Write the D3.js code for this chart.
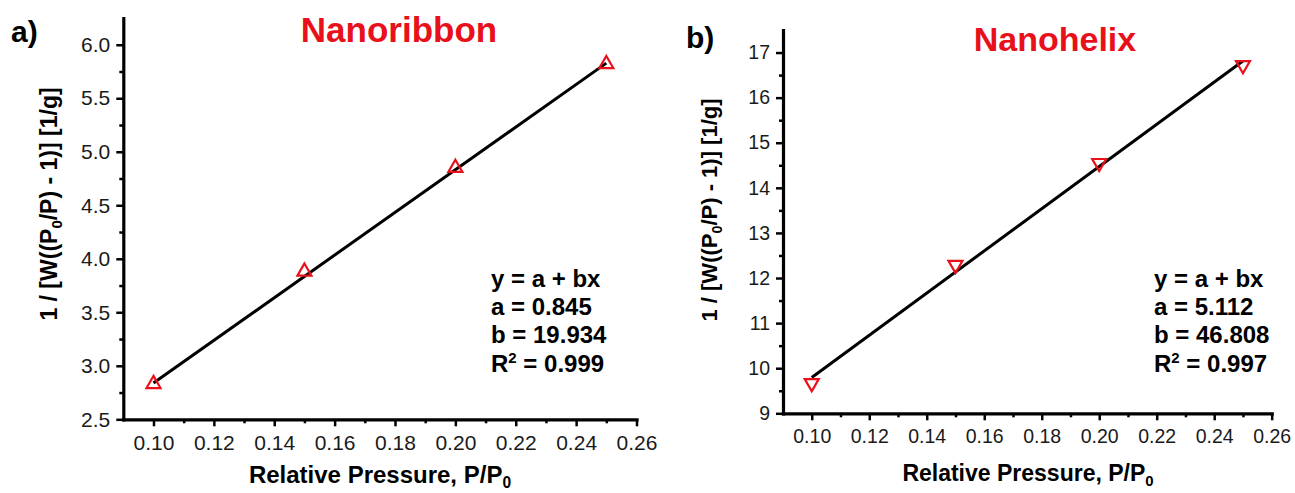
<!DOCTYPE html>
<html>
<head>
<meta charset="utf-8">
<script src="https://cdn.jsdelivr.net/npm/d3@7"></script>
<style>
  body { margin: 0; background: #fff; }
  svg { display: block; font-family: "Liberation Sans", Arial, sans-serif; }
</style>
</head>
<body>
<div id="vis"></div>
<script>
// data
var pressure = [0.10, 0.15, 0.20, 0.25];
var ribbonY = [2.83, 3.88, 4.85, 5.82];
var helixY = [9.67, 12.29, 14.55, 16.72];
// fit results printed on the chart
var ribbonFit = {a: 0.845, b: 19.934, r2: "0.999"};
var helixFit = {a: 5.112, b: 46.808, r2: "0.997"};

var xTicks = [0.10, 0.12, 0.14, 0.16, 0.18, 0.20, 0.22, 0.24, 0.26];
var xMinor = [0.11, 0.13, 0.15, 0.17, 0.19, 0.21, 0.23, 0.25];
var ribbonTicks = [2.5, 3.0, 3.5, 4.0, 4.5, 5.0, 5.5, 6.0];
var ribbonMinor = [2.75, 3.25, 3.75, 4.25, 4.75, 5.25, 5.75];
var helixTicks = [9, 10, 11, 12, 13, 14, 15, 16, 17];
var helixMinor = [9.5, 10.5, 11.5, 12.5, 13.5, 14.5, 15.5, 16.5];

var red = "#e8101a";

var svg = d3.select("#vis").append("svg").attr("width", 1295).attr("height", 493);

// one panel = one small chart
var panels = [
  {
    letter: "a)", name: "Nanoribbon", ys: ribbonY, fit: ribbonFit,
    yDom: [2.5, 6.25], yTicks: ribbonTicks, yMinor: ribbonMinor, yFmt: d3.format(".1f"),
    left: 123.3, right: 636.5, top: 18, bottom: 419.3,
    font: 21, titleFont: 24, yTitleFont: 23, nameFont: 35,
    flip: false,
    letterPos: [11, 42], namePos: [399, 42],
    xTitlePos: [380, 483], yTitlePos: [57, 204], notePos: [491, 286.7]
  },
  {
    letter: "b)", name: "Nanohelix", ys: helixY, fit: helixFit,
    yDom: [9, 17.5], yTicks: helixTicks, yMinor: helixMinor, yFmt: d3.format("d"),
    left: 783, right: 1271.7, top: 30, bottom: 413.3,
    font: 19.5, titleFont: 23, yTitleFont: 22, nameFont: 34,
    flip: true,
    letterPos: [686, 48], namePos: [1055, 51],
    xTitlePos: [1028, 481], yTitlePos: [717, 210], notePos: [1154, 286.7]
  }
];

panels.forEach(function(p){
  var x = d3.scaleLinear().domain([0.09, 0.26]).range([p.left, p.right]);
  var y = d3.scaleLinear().domain(p.yDom).range([p.bottom, p.top]);
  var g = svg.append("g");

  // minor ticks first, under the main axes
  g.append("g").attr("transform", "translate(0," + p.bottom + ")")
    .call(d3.axisBottom(x).tickValues(xMinor).tickSize(4).tickFormat(""))
    .call(function(s){ s.select(".domain").remove(); s.selectAll("line").attr("stroke-width", 2.5); });
  g.append("g").attr("transform", "translate(" + p.left + ",0)")
    .call(d3.axisLeft(y).tickValues(p.yMinor).tickSize(4).tickFormat(""))
    .call(function(s){ s.select(".domain").remove(); s.selectAll("line").attr("stroke-width", 2.5); });

  var xa = g.append("g").attr("transform", "translate(0," + p.bottom + ")")
    .call(d3.axisBottom(x).tickValues(xTicks).tickSize(7).tickSizeOuter(0).tickPadding(9).tickFormat(d3.format(".2f")));
  var ya = g.append("g").attr("transform", "translate(" + p.left + ",0)")
    .call(d3.axisLeft(y).tickValues(p.yTicks).tickSize(7).tickSizeOuter(0).tickPadding(6).tickFormat(p.yFmt));
  [xa, ya].forEach(function(a){
    a.select(".domain").attr("stroke-width", 3.2).attr("stroke-linecap", "square");
    a.selectAll(".tick line").attr("stroke-width", 2.5);
    a.selectAll("text").attr("font-size", p.font).attr("fill", "#1a1a1a").attr("font-family", null);
  });

  // linear fit line, from the printed a and b
  var ends = [pressure[0], pressure[pressure.length - 1]];
  g.append("path")
    .attr("d", d3.line().x(function(d){ return x(d); }).y(function(d){ return y(p.fit.a + p.fit.b * d); })(ends))
    .attr("fill", "none").attr("stroke", "#000").attr("stroke-width", 3);

  // hollow triangle markers
  g.selectAll(".pt").data(pressure).enter().append("path")
    .attr("class", "pt")
    .attr("d", d3.symbol().type(d3.symbolTriangle).size(85))
    .attr("transform", function(d, i){
      return "translate(" + x(d) + "," + y(p.ys[i]) + ")" + (p.flip ? " rotate(180)" : "");
    })
    .attr("fill", "none").attr("stroke", red).attr("stroke-width", 2.2);

  // panel letter and title
  g.append("text").text(p.letter).attr("x", p.letterPos[0]).attr("y", p.letterPos[1])
    .attr("font-size", 30).attr("font-weight", "bold");
  g.append("text").text(p.name).attr("x", p.namePos[0]).attr("y", p.namePos[1])
    .attr("text-anchor", "middle").attr("font-size", p.nameFont).attr("font-weight", "bold").attr("fill", red);

  // x title with subscript
  var xt = g.append("text").attr("x", p.xTitlePos[0]).attr("y", p.xTitlePos[1])
    .attr("text-anchor", "middle").attr("font-size", p.titleFont).attr("font-weight", "bold");
  xt.append("tspan").text("Relative Pressure, P/P");
  xt.append("tspan").text("0").attr("font-size", p.titleFont * 0.65).attr("dy", 5);

  // y title, rotated, with subscript
  var yt = g.append("text")
    .attr("transform", "translate(" + p.yTitlePos[0] + "," + p.yTitlePos[1] + ") rotate(-90)")
    .attr("text-anchor", "middle").attr("font-size", p.yTitleFont).attr("font-weight", "bold");
  yt.append("tspan").text("1 / [W((P");
  yt.append("tspan").text("0").attr("font-size", p.yTitleFont * 0.65).attr("dy", 5);
  yt.append("tspan").text("/P) - 1)] [1/g]").attr("dy", -5);

  // fit annotation
  var lines = ["y = a + bx", "a = " + d3.format(".3f")(p.fit.a), "b = " + d3.format(".3f")(p.fit.b)];
  var note = g.append("g").attr("font-size", 24).attr("font-weight", "bold");
  lines.forEach(function(t, i){
    note.append("text").text(t).attr("x", p.notePos[0]).attr("y", p.notePos[1] + i * 28.3);
  });
  var r = note.append("text").attr("x", p.notePos[0]).attr("y", p.notePos[1] + 3 * 28.3);
  r.append("tspan").text("R");
  r.append("tspan").text("2").attr("font-size", 15).attr("dy", -9);
  r.append("tspan").text(" = " + p.fit.r2).attr("dy", 9);
});
</script>
</body>
</html>
